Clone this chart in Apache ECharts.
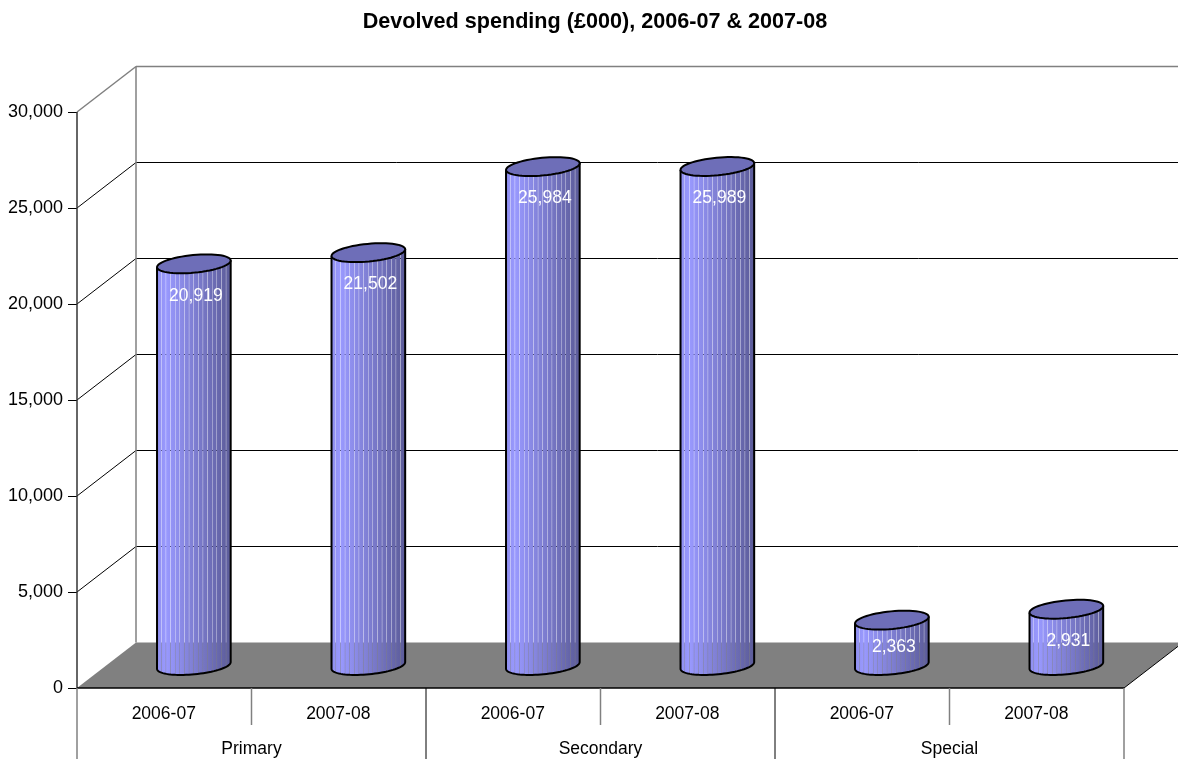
<!DOCTYPE html>
<html><head><meta charset="utf-8">
<style>html,body{margin:0;padding:0;background:#fff}#c{width:1178px;height:759px}</style>
<script src="https://cdn.jsdelivr.net/npm/echarts@6/dist/echarts.min.js"></script>
</head><body><div id="c"></div>
<script>
var titleText = 'Devolved spending (£000), 2006-07 & 2007-08';
var years = ['2006-07','2007-08','2006-07','2007-08','2006-07','2007-08'];
var groups = ['Primary','Secondary','Special'];
var values = [20919,21502,25984,25989,2363,2931];
var ticks = [0,5000,10000,15000,20000,25000,30000];

var FONT = '"Liberation Sans", Arial, sans-serif';
var DX = 59, DY = 45.5, SX = 29.6, SY = 22.5, RX = 37, RY = 8.8, TILT = 5.5*Math.PI/180, STRIPS = 16, GAP = 0.35;

function ell(cx, cy, t){
  var a = RX*Math.cos(t), b = RY*Math.sin(t);
  return [cx + a*Math.cos(TILT) + b*Math.sin(TILT), cy - a*Math.sin(TILT) + b*Math.cos(TILT)];
}
function lower(cx, cy, u){ return ell(cx, cy, Math.PI*(1-u)); }
function shade(u){
  var k = u < 0.12 ? 0.93 + 0.07*u/0.12 : 1 - 0.40*(u-0.12)/0.88;
  return 'rgb('+Math.round(153*k)+','+Math.round(153*k)+','+Math.round(255*k)+')';
}
function line(x1,y1,x2,y2,color,w){
  return {type:'line',shape:{x1:x1,y1:y1,x2:x2,y2:y2},style:{stroke:color,lineWidth:w||1}};
}

function renderFrame(params, api){
  var band = api.size([1,0])[0];
  var o = api.coord([0,0]); var left = o[0]-band/2, y0 = o[1];
  var right = left + band*years.length;
  var ch = [];
  ch.push({type:'polygon',shape:{points:[[left,y0],[left+DX,y0-DY],[right+DX,y0-DY],[right,y0]]},style:{fill:'#808080'}});
  ticks.forEach(function(t){
    var y = api.coord([0,t])[1];
    var top = t === ticks[ticks.length-1];
    if(t>0){
      ch.push(line(left,y,left+DX,y-DY, top?'#808080':'#000', top?1.5:1));
      ch.push(line(left+DX,y-DY,right+DX,y-DY, top?'#808080':'#000', top?1.5:1));
    }
  });
  var yT = api.coord([0,ticks[ticks.length-1]])[1];
  ch.push(line(left+DX,yT-DY,left+DX,y0-DY,'#808080',1.5));
  ch.push(line(left,yT,left,y0,'#333',1.5));
  ch.push(line(right,y0,right+DX,y0-DY,'#000',1));
  ch.push(line(left,y0,right,y0,'#000',1.5));
  for(var i=0;i<=years.length;i++){
    var x = left+band*i;
    var isGroup = i%2===0, outer = i===0||i===years.length;
    ch.push(line(x,y0,x,isGroup?759:y0+37, (outer||!isGroup)?'#808080':'#000', (outer||!isGroup)?1.5:1));
  }
  return {type:'group',children:ch};
}

function renderBar(params, api){
  var i = api.value(0), v = api.value(1);
  var b = api.coord([i,0]), t = api.coord([i,v]);
  var cx = b[0]+SX, by = b[1]-SY, ty = t[1]-SY;
  var ch = [], u, m;
  function yAt(cy, uu){ return lower(cy===by?cx:cx, cy, Math.acos(1-2*uu)/Math.PI)[1]; }
  for(var s=0;s<STRIPS;s++){
    var pts = [], n = 3, k, uw = (1-GAP*STRIPS/(2*RX))/STRIPS;
    for(k=0;k<=n;k++){ u=s/STRIPS+uw*k/n; pts.push([cx-RX+2*RX*u, yAt(by,u)]); }
    for(k=n;k>=0;k--){ u=s/STRIPS+uw*k/n; pts.push([cx-RX+2*RX*u, yAt(ty,u)]); }
    ch.push({type:'polygon',shape:{points:pts},style:{fill:{type:'linear',x:0,y:0,x2:1,y2:0,colorStops:[
      {offset:0,color:shade(s/STRIPS)},{offset:1,color:shade((s+1)/STRIPS)}]}}});
  }
  var outline = [];
  for(m=0;m<=40;m++){ outline.push(lower(cx,by,m/40)); }
  ch.push({type:'polyline',shape:{points:[lower(cx,ty,0)].concat(outline).concat([lower(cx,ty,1)])},style:{fill:null,stroke:'#000',lineWidth:2}});
  var top = [];
  for(m=0;m<=60;m++){ top.push(ell(cx,ty,2*Math.PI*m/60)); }
  ch.push({type:'polygon',shape:{points:top},style:{fill:'#6e6eb8',stroke:'#000',lineWidth:2}});
  ch.push({type:'text',style:{x:cx+2,y:Math.min(ty+32,(ty+by)/2+4),text:api.value(2),fill:'#fff',font:'17.5px '+FONT,textAlign:'center',textVerticalAlign:'middle'}});
  return {type:'group',children:ch};
}

var chart = echarts.init(document.getElementById('c'),null,{renderer:'canvas'});
chart.setOption({
  animation:false,
  backgroundColor:'#fff',
  title:{text:titleText,left:590,top:6,textAlign:'center',textStyle:{fontFamily:FONT,fontSize:21.6,fontWeight:'bold',color:'#000'}},
  grid:{left:77,right:54,top:112,bottom:71,containLabel:false},
  xAxis:[
    {type:'category',data:years,gridIndex:0,position:'bottom',axisLine:{show:false},axisTick:{show:false},
     axisLabel:{interval:0,margin:17,padding:[0,1,0,0],fontFamily:FONT,fontSize:17.5,color:'#000'},splitLine:{show:false}},
    {type:'category',data:groups,gridIndex:0,position:'bottom',offset:37,axisLine:{show:false},axisTick:{show:false},
     axisLabel:{interval:0,margin:15,fontFamily:FONT,fontSize:17.5,color:'#000'},splitLine:{show:false}}
  ],
  yAxis:{type:'value',min:0,max:30000,interval:5000,axisLine:{show:false},
    axisTick:{show:true,inside:false,length:9,lineStyle:{color:'#000',width:1}},
    axisLabel:{margin:14,padding:[2,0,0,0],fontFamily:FONT,fontSize:18,color:'#000',formatter:function(v){return v.toLocaleString('en-GB');}},
    splitLine:{show:false}},
  series:[
    {type:'custom',name:'frame',z:1,xAxisIndex:0,silent:true,clip:false,data:[[0,0]],encode:{x:0,y:1},renderItem:renderFrame},
    {type:'custom',name:'Devolved spending',z:3,xAxisIndex:0,clip:false,
     data:values.map(function(v,i){return [i,v,v.toLocaleString('en-GB')];}),
     dimensions:['x','y',{name:'label',type:'ordinal'}],
     encode:{x:0,y:1},renderItem:renderBar}
  ]
});
</script></body></html>
